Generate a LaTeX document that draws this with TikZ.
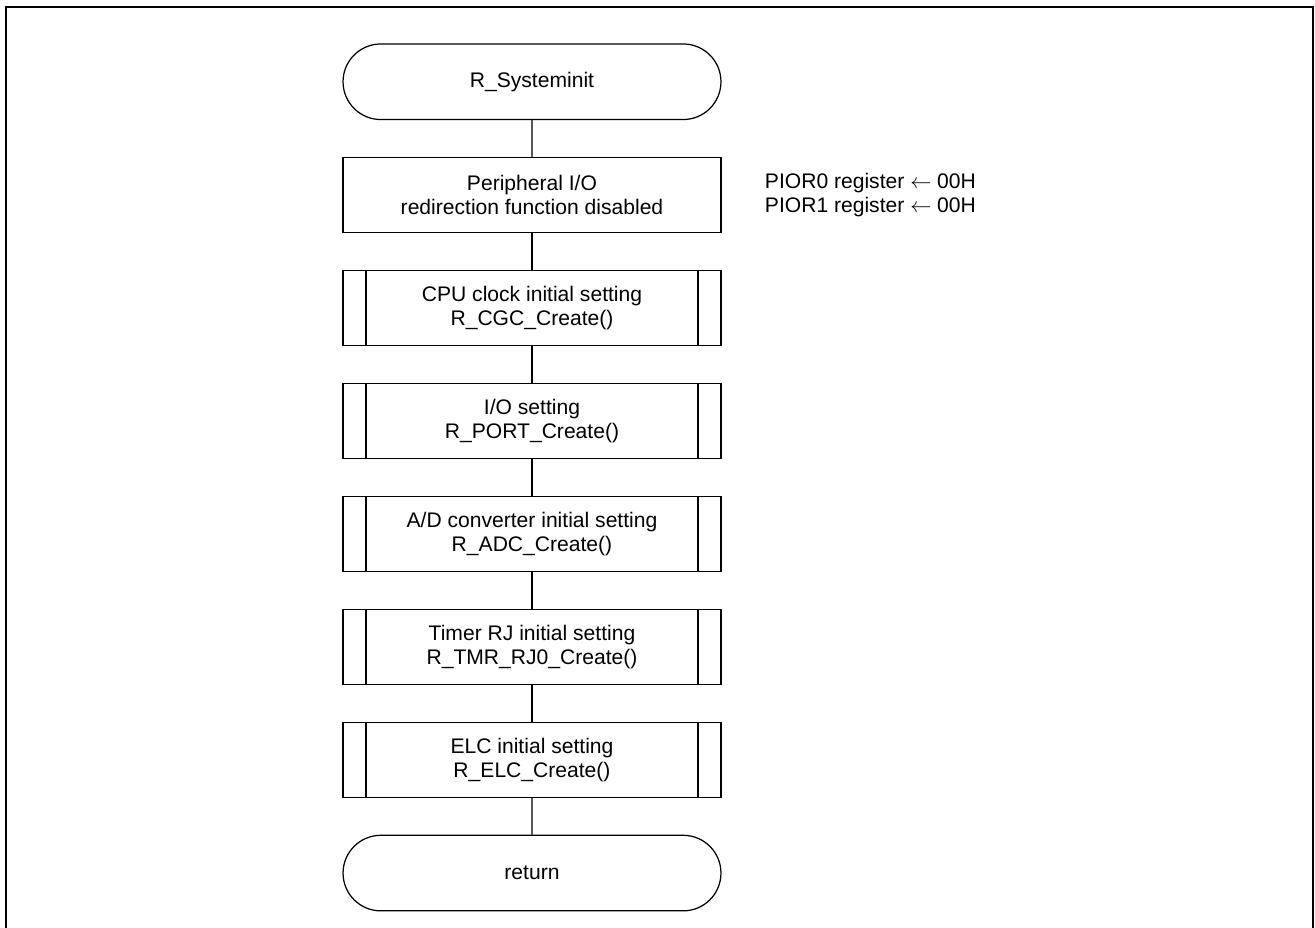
\documentclass[tikz,border=0pt]{standalone}
\usepackage{fontspec}
\setmainfont{Liberation Sans}
\usetikzlibrary{shapes.misc}
\usetikzlibrary{positioning}

\begin{document}
\begin{tikzpicture}[
      x=0.02cm,y=-0.02cm,
      every node/.style={font=\fontsize{12}{13.7}\selectfont},
      terminal/.style={rounded rectangle,draw,line width=0.7pt,align=center,minimum width=215.1pt,minimum height=43pt},
      process/.style={rectangle,draw,line width=0.7pt,align=center,minimum width=215.1pt,minimum height=42.7pt},
      subroutine/.style={process,path picture={
          \draw[line width=0.7pt] ([xshift=13.1pt]path picture bounding box.north west) -- ([xshift=13.1pt]path picture bounding box.south west)
            ([xshift=-13.1pt]path picture bounding box.north east) -- ([xshift=-13.1pt]path picture bounding box.south east);}},
      note/.style={rectangle,align=left,inner sep=0pt},
      flow/.style={line width=0.7pt},
    ]
    \useasboundingbox (0,0) rectangle (1315,927);
    \draw[line width=1.2pt] (6,940) -- (6,7) -- (1313,7) -- (1313,940);
    \matrix (chart) [row sep=20.9pt,inner sep=0pt,anchor=north] at (532,43) {
      \node[terminal] (start) {R\_Systeminit}; \\
      \node[process] (periph) {Peripheral I/O\\redirection function disabled}; \\
      \node[subroutine] (cgc) {CPU clock initial setting\\R\_CGC\_Create()}; \\
      \node[subroutine] (port) {I/O setting\\R\_PORT\_Create()}; \\
      \node[subroutine] (adc) {A/D converter initial setting\\R\_ADC\_Create()}; \\
      \node[subroutine] (tmr) {Timer RJ initial setting\\R\_TMR\_RJ0\_Create()}; \\
      \node[subroutine] (elc) {ELC initial setting\\R\_ELC\_Create()}; \\
      \node[terminal] (return) {return}; \\
    };
    \node[note,right=24.5pt of periph] (pior) {PIOR0 register $\leftarrow$ 00H\\PIOR1 register $\leftarrow$ 00H};
    \draw[flow] (start) -- (periph);
    \draw[flow] (periph) -- (cgc);
    \draw[flow] (cgc) -- (port);
    \draw[flow] (port) -- (adc);
    \draw[flow] (adc) -- (tmr);
    \draw[flow] (tmr) -- (elc);
    \draw[flow] (elc) -- (return);
  \end{tikzpicture}
\end{document}
